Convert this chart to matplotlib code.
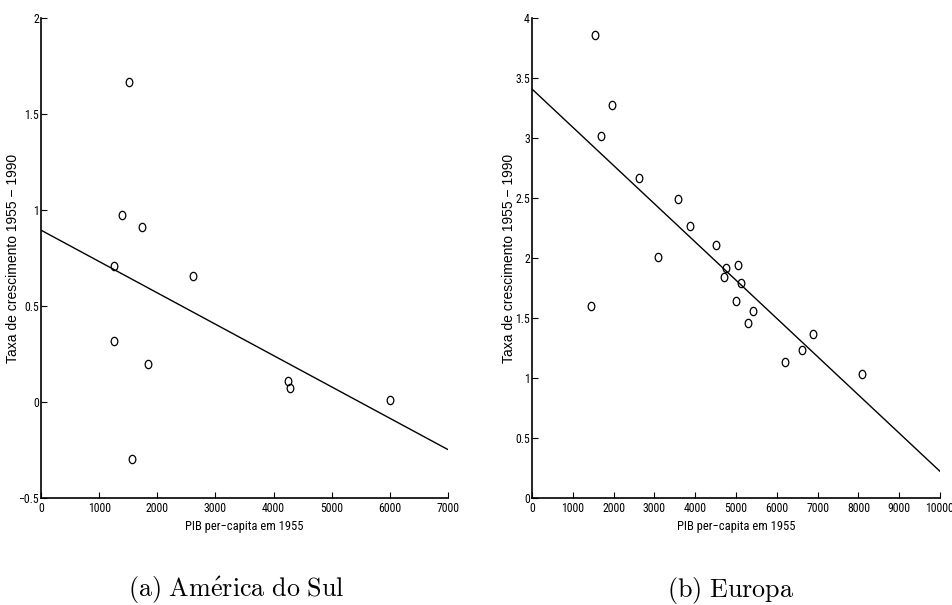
import numpy as np
import matplotlib
matplotlib.use("Agg")
import matplotlib.pyplot as plt
from matplotlib.path import Path
from matplotlib.transforms import Affine2D
from matplotlib import font_manager as fm
from matplotlib.font_manager import FontProperties

# ---- data: América do Sul ----
sa_pib = [1520, 1400, 1733, 1256, 2621, 1262, 1835, 4251, 4291, 6000, 1566]
sa_taxa = [1.665, 0.976, 0.909, 0.706, 0.656, 0.319, 0.196, 0.111, 0.075, 0.010, -0.297]
sa_fit_x = [0, 7000]
sa_fit_y = [0.895, -0.248]

# ---- data: Europa ----
eu_pib = [1537, 1953, 1684, 2615, 3571, 3882, 3081, 4519, 4764, 5058, 4706, 5132,
          1439, 5010, 5426, 5294, 6887, 6618, 6194, 8098]
eu_taxa = [3.861, 3.278, 3.013, 2.667, 2.492, 2.267, 2.011, 2.108, 1.919, 1.942, 1.842, 1.794,
           1.597, 1.639, 1.561, 1.458, 1.364, 1.231, 1.133, 1.036]
eu_fit_x = [0, 10000]
eu_fit_y = [3.408, 0.222]

sa_xticks = [0, 1000, 2000, 3000, 4000, 5000, 6000, 7000]
sa_yticks = [-0.5, 0, 0.5, 1, 1.5, 2]
sa_yticklabels = ["\u22120.5", "0", "0.5", "1", "1.5", "2"]
eu_xticks = [0, 1000, 2000, 3000, 4000, 5000, 6000, 7000, 8000, 9000, 10000]
eu_yticks = [0, 0.5, 1, 1.5, 2, 2.5, 3, 3.5, 4]
eu_yticklabels = ["0", "0.5", "1", "1.5", "2", "2.5", "3", "3.5", "4"]

xlabel = "PIB per\u2212capita em 1955"
ylabel = "Taxa de crescimento 1955 \u2212 1990"
captions = [r"$\mathrm{(a)\ Am\acute{e}rica\ do\ Sul}$", r"$\mathrm{(b)\ Europa}$"]

# look for a narrow / condensed sans font, otherwise use a smaller regular one
narrow_file = None
pref = ["Liberation Sans Narrow", "Roboto Condensed", "Open Sans Condensed",
        "Noto Sans", "Liberation Sans", "Roboto", "Open Sans", "DejaVu Sans"]
for fam in pref:
    for f in fm.fontManager.ttflist:
        st = str(f.stretch).lower()
        cond = ("condensed" in st or "narrow" in st or
                (isinstance(f.stretch, int) and f.stretch < 500) or
                "Narrow" in f.name or "Condensed" in f.name)
        if f.name == fam and cond and f.style == "normal" and f.weight in (400, "normal", "regular"):
            narrow_file = f.fname
            break
    if narrow_file:
        break

def tick_fp():
    if narrow_file:
        return FontProperties(fname=narrow_file, size=8.5)
    return FontProperties(family="Liberation Sans", size=7.6)

def xlab_fp():
    if narrow_file:
        return FontProperties(fname=narrow_file, size=9)
    return FontProperties(family="Liberation Sans", size=7.8)

plt.rcParams["mathtext.fontset"] = "cm"

# oval marker (circle slightly compressed horizontally)
circ = Path.unit_circle()
oval = Path(Affine2D().scale(0.8, 1.0).transform(circ.vertices), circ.codes)

W, H = 953, 605
fig = plt.figure(figsize=(W / 100, H / 100), dpi=100)

def make_ax(x0, x1, y_top, y_bot):
    return fig.add_axes([x0 / W, (H - y_bot) / H, (x1 - x0) / W, (y_bot - y_top) / H])

axes = [make_ax(41, 448, 18, 498), make_ax(532, 940, 18, 498)]
panels = [
    (sa_pib, sa_taxa, sa_fit_x, sa_fit_y, sa_xticks, sa_yticks, sa_yticklabels, (0, 7000), (-0.5, 2), -0.0516),
    (eu_pib, eu_taxa, eu_fit_x, eu_fit_y, eu_xticks, eu_yticks, eu_yticklabels, (0, 10000), (0, 4), -0.039),
]

for ax, (px, py, fx, fy, xt, yt, ytl, xl, yl, ylab_x) in zip(axes, panels):
    ax.plot(fx, fy, color="black", lw=1.0)
    ax.plot(px, py, linestyle="none", marker=oval, markersize=6.0,
            markerfacecolor="none", markeredgecolor="black", markeredgewidth=0.9)
    ax.set_xlim(*xl)
    ax.set_ylim(*yl)
    ax.set_xticks(xt)
    ax.set_xticklabels([str(v) for v in xt])
    ax.set_yticks(yt)
    ax.set_yticklabels(ytl)
    for s in ("top", "right"):
        ax.spines[s].set_visible(False)
    for s in ("left", "bottom"):
        ax.spines[s].set_linewidth(1.2)
        ax.spines[s].set_color("black")
    ax.tick_params(direction="in", length=4, width=0.8, colors="black", pad=3)
    ax.tick_params(axis="y", pad=1.5)
    for lab in ax.get_xticklabels() + ax.get_yticklabels():
        lab.set_fontproperties(tick_fp())
    ax.set_xlabel(xlabel, fontproperties=xlab_fp())
    ax.set_ylabel(ylabel, family="Liberation Sans", fontsize=10)
    ax.xaxis.set_label_coords(0.5, -0.046)
    ax.yaxis.set_label_coords(ylab_x, 0.5)
    ax.patch.set_visible(False)

fig.text(236 / W, 1 - 590 / H, captions[0], ha="center", va="center", fontsize=18.8)
fig.text(731 / W, 1 - 590 / H, captions[1], ha="center", va="center", fontsize=18.8)

fig.savefig("out.png", dpi=100, facecolor="white")
